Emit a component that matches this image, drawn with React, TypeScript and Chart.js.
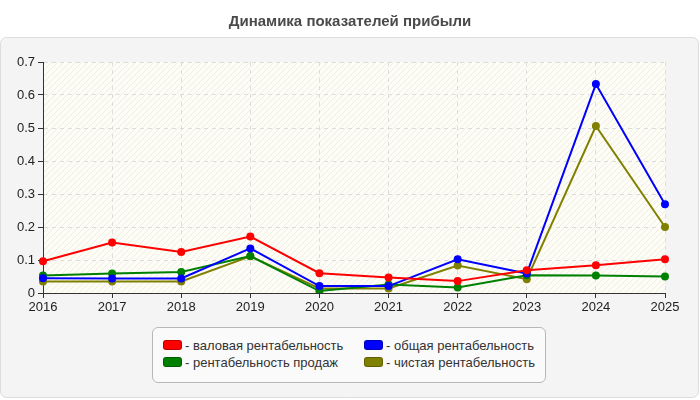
import { useEffect, useRef } from "react";
import { Chart, registerables } from "chart.js";

Chart.register(...registerables);

const years = ["2016", "2017", "2018", "2019", "2020", "2021", "2022", "2023", "2024", "2025"];
const grossMargin = [0.096, 0.153, 0.124, 0.171, 0.06, 0.047, 0.036, 0.069, 0.084, 0.102];
const totalMargin = [0.045, 0.044, 0.044, 0.135, 0.021, 0.021, 0.102, 0.059, 0.633, 0.269];
const salesMargin = [0.053, 0.059, 0.064, 0.112, 0.006, 0.026, 0.017, 0.054, 0.053, 0.05];
const netMargin = [0.035, 0.035, 0.035, 0.111, 0.014, 0.014, 0.083, 0.042, 0.506, 0.2];

const seriesLabels = [
  "валовая рентабельность",
  "общая рентабельность",
  "рентабельность продаж",
  "чистая рентабельность",
];
const seriesColors = ["#ff0000", "#0000ff", "#008000", "#808000"];

const FONT = "'Liberation Sans', Arial, sans-serif";

function hatch() {
  const c = document.createElement("canvas");
  c.width = 6;
  c.height = 6;
  const g = c.getContext("2d")!;
  g.fillStyle = "#fdfdf6";
  g.fillRect(0, 0, 6, 6);
  g.strokeStyle = "rgba(0,0,0,0.06)";
  g.lineWidth = 1;
  g.beginPath();
  g.moveTo(-1, 7);
  g.lineTo(7, -1);
  g.moveTo(-1, 1);
  g.lineTo(1, -1);
  g.moveTo(5, 7);
  g.lineTo(7, 5);
  g.stroke();
  return g.createPattern(c, "repeat");
}

const panelPlugin = {
  id: "panel",
  beforeDraw(chart: Chart) {
    const { ctx, chartArea } = chart;
    ctx.save();
    ctx.fillStyle = "#f4f4f4";
    ctx.strokeStyle = "#dcdcdc";
    ctx.lineWidth = 1;
    ctx.beginPath();
    ctx.roundRect(0.5, 37.5, 698, 360, 6);
    ctx.fill();
    ctx.stroke();
    const p = hatch();
    if (p) ctx.fillStyle = p;
    ctx.fillRect(chartArea.left, chartArea.top, chartArea.right - chartArea.left, chartArea.bottom - chartArea.top);
    ctx.restore();
  },
};

export default function App() {
  const canvasRef = useRef<HTMLCanvasElement>(null);

  useEffect(() => {
    document.body.style.margin = "0";
    const ctx = canvasRef.current?.getContext("2d");
    if (!ctx) return;
    const data = [grossMargin, totalMargin, salesMargin, netMargin];
    const chart = new Chart(ctx, {
      type: "line",
      data: {
        labels: years,
        datasets: data.map((d, i) => ({
          label: seriesLabels[i],
          data: d,
          borderColor: seriesColors[i],
          backgroundColor: seriesColors[i],
          borderWidth: 2,
          pointRadius: 4,
          pointBorderWidth: 0,
          tension: 0,
        })),
      },
      options: {
        responsive: false,
        animation: false,
        layout: { padding: { left: 0, right: 0, top: 0, bottom: 87 } },
        plugins: {
          legend: { display: false },
          tooltip: { enabled: false },
          title: {
            display: true,
            text: "Динамика показателей прибыли",
            color: "#4a4a4a",
            font: { family: FONT, size: 15, weight: "bold" },
            padding: { top: 13, bottom: 31 },
          },
        },
        scales: {
          x: {
            offset: false,
            afterFit: (s: any) => {
              s.height = 20;
            },
            ticks: { color: "#222", font: { family: FONT, size: 13 }, padding: 2, maxRotation: 0 },
            grid: {
              color: "#dddddd",
              tickColor: "#333",
              tickLength: 5,
              tickBorderDash: [],
            } as any,
            border: { display: true, color: "#333", width: 1, dash: [4, 4] } as any,
          },
          y: {
            min: 0,
            max: 0.7,
            afterFit: (s: any) => {
              s.width = 43;
            },
            ticks: {
              stepSize: 0.1,
              color: "#222",
              font: { family: FONT, size: 13 },
              padding: 3,
              callback: (v: any) => String(Math.round(Number(v) * 10) / 10),
            },
            grid: {
              color: "#dddddd",
              tickColor: "#333",
              tickLength: 5,
              tickBorderDash: [],
            } as any,
            border: { display: true, color: "#333", width: 1, dash: [4, 4] } as any,
          },
          spacer: {
            position: "right",
            min: 0,
            max: 1,
            afterFit: (s: any) => {
              s.width = 35;
            },
            grid: { display: false },
            ticks: { display: false },
            border: { display: false },
          } as any,
        },
      },
      plugins: [panelPlugin],
    });
    return () => chart.destroy();
  }, []);

  const itemPos = [
    { left: 10, top: 8 },
    { left: 211, top: 8 },
    { left: 10, top: 25 },
    { left: 211, top: 25 },
  ];

  return (
    <div style={{ position: "relative", width: 700, height: 400, fontFamily: FONT }}>
      <canvas ref={canvasRef} width={700} height={400} style={{ width: 700, height: 400, display: "block" }} />
      <div
        style={{
          position: "absolute",
          left: 152,
          top: 327,
          width: 394,
          height: 56,
          boxSizing: "border-box",
          border: "1px solid #b8b8b8",
          borderRadius: 6,
          background: "#fafafa",
        }}
      >
        {seriesLabels.map((l, i) => (
          <div
            key={l}
            style={{
              position: "absolute",
              left: itemPos[i].left,
              top: itemPos[i].top,
              display: "flex",
              alignItems: "center",
              height: 18,
              fontSize: 13,
              color: "#333",
              whiteSpace: "nowrap",
            }}
          >
            <span
              style={{
                display: "inline-block",
                width: 17,
                height: 8,
                borderRadius: 3,
                background: seriesColors[i],
                border: "1px solid rgba(0,0,0,0.25)",
                marginRight: 3,
              }}
            />
            - {l}
          </div>
        ))}
      </div>
    </div>
  );
}
